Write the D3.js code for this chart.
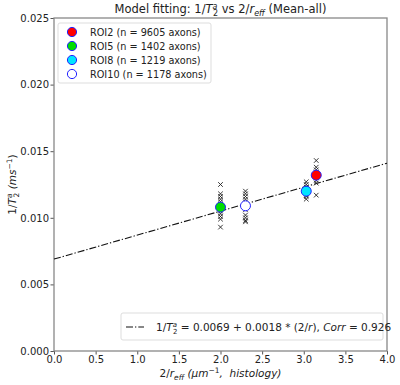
<html>
<head>
<script src="https://d3js.org/d3.v7.min.js"></script>
<style>
  body { margin: 0; background: #fff; }
  svg text { font-family: "DejaVu Sans", sans-serif; fill: #222; white-space: pre; }
  .tick text { font-size: 10px; }
  .axis .domain { stroke: none; }
  .axis line { stroke: #555; }
</style>
</head>
<body>
<svg id="chart" width="400" height="385"></svg>
<script>
// ---- data ----
const roiNames = ["ROI2 (n = 9605 axons)", "ROI5 (n = 1402 axons)", "ROI8 (n = 1219 axons)", "ROI10 (n = 1178 axons)"];
const roiX = [3.15, 2.00, 3.03, 2.30];
const roiMean = [0.0132, 0.0108, 0.0120, 0.0109];
const roiSamples = [
  [0.0143, 0.0138, 0.0136, 0.0134, 0.0132, 0.0130, 0.0128, 0.0126, 0.0117],
  [0.0125, 0.0118, 0.0116, 0.0114, 0.0112, 0.0110, 0.0105, 0.0103, 0.0101, 0.0099, 0.0093],
  [0.0127, 0.0125, 0.0123, 0.0121, 0.0119, 0.0117, 0.0116, 0.0114],
  [0.0120, 0.0118, 0.0116, 0.0114, 0.0112, 0.0110, 0.0106, 0.0102, 0.0100, 0.0098, 0.0097]
];
const fitIntercept = 0.0069;
const fitSlope = 0.0018;
const fitCorr = 0.926;
const xTicks = [0, 0.5, 1, 1.5, 2, 2.5, 3, 3.5, 4];
const yTicks = [0, 0.005, 0.01, 0.015, 0.02, 0.025];

const roiColors = ["#ff0000", "#00dd00", "#00e5ff", "#ffffff"];

const svg = d3.select("#chart");
const margin = {top: 18, right: 13, bottom: 34, left: 54};
const width = 400 - margin.left - margin.right;
const height = 385 - margin.top - margin.bottom;

const x = d3.scaleLinear().domain([0, 4]).range([0, width]);
const y = d3.scaleLinear().domain([0, 0.025]).range([height, 0]);

const g = svg.append("g").attr("transform", `translate(${margin.left},${margin.top})`);

// axes
g.append("g").attr("class", "axis")
  .attr("transform", `translate(0,${height})`)
  .call(d3.axisBottom(x).tickValues(xTicks).tickFormat(d3.format(".1f")).tickSize(3.5).tickPadding(1.5));
g.append("g").attr("class", "axis")
  .call(d3.axisLeft(y).tickValues(yTicks).tickFormat(d3.format(".3f")).tickSize(3.5).tickPadding(1.5));

// frame
g.append("rect").attr("width", width).attr("height", height)
  .attr("fill", "none").attr("stroke", "#888").attr("stroke-width", 1.3);

// fit line
g.append("line")
  .attr("x1", x(0)).attr("y1", y(fitIntercept))
  .attr("x2", x(4)).attr("y2", y(fitIntercept + fitSlope * 4))
  .attr("stroke", "#111").attr("stroke-width", 1.1)
  .attr("stroke-dasharray", "7,2,1.3,2");

// individual samples as crosses
const crossPath = "M-2.3,-2.3L2.3,2.3M-2.3,2.3L2.3,-2.3";
roiSamples.forEach((vals, i) => {
  g.append("g").selectAll("path").data(vals).join("path")
    .attr("d", crossPath)
    .attr("transform", d => `translate(${x(roiX[i])},${y(d)})`)
    .attr("stroke", "#222").attr("stroke-width", 0.9).attr("fill", "none");
});

// mean markers
g.append("g").selectAll("circle").data(roiX).join("circle")
  .attr("cx", d => x(d))
  .attr("cy", (d, i) => y(roiMean[i]))
  .attr("r", 5)
  .attr("fill", (d, i) => roiColors[i])
  .attr("stroke", "#2222ff").attr("stroke-width", 1);

// title
const title = svg.append("text").attr("x", margin.left + width / 2).attr("y", 13)
  .attr("text-anchor", "middle").style("font-size", "11.5px");
title.append("tspan").text("Model fitting: 1/");
title.append("tspan").style("font-style", "italic").text("T");
title.append("tspan").attr("dy", -4).style("font-size", "8px").style("font-style", "italic").text("a");
title.append("tspan").attr("dx", -4.5).attr("dy", 7).style("font-size", "8px").text("2");
title.append("tspan").attr("dy", -3).text(" vs 2/");
title.append("tspan").style("font-style", "italic").text("r");
title.append("tspan").attr("dy", 3).style("font-size", "8px").style("font-style", "italic").text("eff");
title.append("tspan").attr("dy", -3).text(" (Mean-all)");

// x label
const xl = svg.append("text").attr("x", margin.left + width / 2).attr("y", 377)
  .attr("text-anchor", "middle").style("font-size", "10.5px");
xl.append("tspan").text("2/");
xl.append("tspan").style("font-style", "italic").text("r");
xl.append("tspan").attr("dy", 3).style("font-size", "7.5px").style("font-style", "italic").text("eff");
xl.append("tspan").attr("dy", -3).style("font-style", "italic").text(" (\u03bcm");
xl.append("tspan").attr("dy", -4).style("font-size", "7.5px").text("\u22121");
xl.append("tspan").attr("dy", 4).style("font-style", "italic").text(",  histology)");

// y label
const yl = svg.append("text")
  .attr("transform", `translate(16,${margin.top + height / 2}) rotate(-90)`)
  .attr("text-anchor", "middle").style("font-size", "10.5px");
yl.append("tspan").text("1/");
yl.append("tspan").style("font-style", "italic").text("T");
yl.append("tspan").attr("dy", -4).style("font-size", "7.5px").style("font-style", "italic").text("a");
yl.append("tspan").attr("dx", -4).attr("dy", 7).style("font-size", "7.5px").text("2");
yl.append("tspan").attr("dy", -3).style("font-style", "italic").text(" (ms");
yl.append("tspan").attr("dy", -4).style("font-size", "7.5px").text("\u22121");
yl.append("tspan").attr("dy", 4).text(")");

// upper-left legend
const leg = svg.append("g").attr("transform", "translate(58,23)");
leg.append("rect").attr("width", 153).attr("height", 60).attr("rx", 2)
  .attr("fill", "#fff").attr("fill-opacity", 0.8).attr("stroke", "#ddd");
roiNames.forEach((name, i) => {
  const ry = 9 + i * 14;
  leg.append("circle").attr("cx", 14).attr("cy", ry).attr("r", 4.6)
    .attr("fill", roiColors[i]).attr("stroke", "#2222ff").attr("stroke-width", 1);
  leg.append("text").attr("x", 32).attr("y", ry + 3.5).style("font-size", "9.7px").text(name);
});

// lower-right legend
const leg2 = svg.append("g").attr("transform", "translate(121,313)");
leg2.append("rect").attr("width", 262).attr("height", 27).attr("rx", 2)
  .attr("fill", "#fff").attr("fill-opacity", 0.8).attr("stroke", "#ddd");
leg2.append("line").attr("x1", 5).attr("x2", 23).attr("y1", 14).attr("y2", 14)
  .attr("stroke", "#111").attr("stroke-width", 1.1).attr("stroke-dasharray", "7,2,1.3,2");
const lt = leg2.append("text").attr("x", 35).attr("y", 18).style("font-size", "10.5px");
lt.append("tspan").text("1/");
lt.append("tspan").style("font-style", "italic").text("T");
lt.append("tspan").attr("dy", -4).style("font-size", "7px").style("font-style", "italic").text("a");
lt.append("tspan").attr("dx", -4).attr("dy", 7).style("font-size", "7px").text("2");
lt.append("tspan").attr("dy", -3).text(` = ${fitIntercept.toFixed(4)} + ${fitSlope.toFixed(4)} * (2/`);
lt.append("tspan").style("font-style", "italic").text("r");
lt.append("tspan").text("), ");
lt.append("tspan").style("font-style", "italic").text("Corr");
lt.append("tspan").text(` = ${fitCorr}`);
</script>
</body>
</html>
